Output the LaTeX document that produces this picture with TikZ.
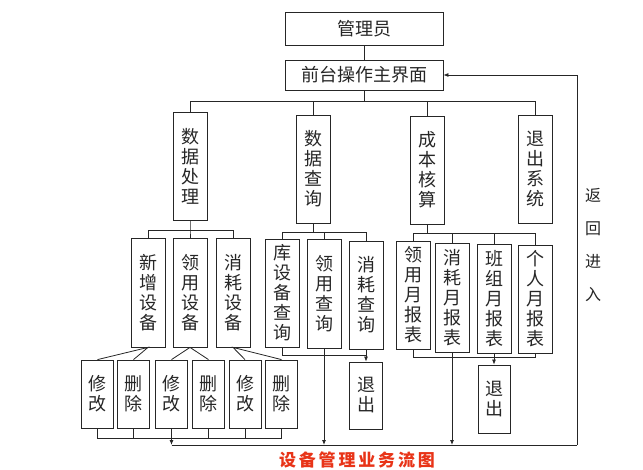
\documentclass[tikz,border=0pt]{standalone}
\usepackage{fontspec}
\newfontfamily\cjk{Noto Sans CJK SC}
\usepackage{tikz}
\usetikzlibrary{arrows.meta, positioning, calc}
\definecolor{titlered}{RGB}{232,52,24}

\begin{document}
\begin{tikzpicture}[x=1pt, y=-1pt, font=\cjk\fontsize{18}{20}\selectfont,
    line width=0.8pt, color=black!85,
    box/.style={draw, inner sep=0pt, align=center, minimum width=34pt, minimum height=108pt},
    leaf/.style={box, minimum width=32pt, minimum height=68pt},
    arr/.style={-{Latex[length=5pt, width=4pt]}}]
    \useasboundingbox (0,0) rectangle (643,470);

    \node[box, minimum width=158pt, minimum height=33pt] (admin) at (364,28.5) {管理员};
    \node[box, minimum width=158pt, minimum height=30pt] (mainui) at (364,75) {前台操作主界面};

    \node[box] (proc) at (190,166) {数\\据\\处\\理};
    \node[box] (query) at (313,169) {数\\据\\查\\询};
    \node[box] (cost) at (427,170) {成\\本\\核\\算};
    \node[box] (quit) at (535,169) {退\\出\\系\\统};

    \node[box, minimum height=109pt] (add) at (148,292.5) {新\\增\\设\\备};
    \node[box, minimum height=109pt] (use) at (190,292.5) {领\\用\\设\\备};
    \node[box, minimum height=109pt] (cons) at (233,292.5) {消\\耗\\设\\备};
    \node[box, minimum height=108pt] (qstock) at (282,293) {库\\设\\备\\查\\询};
    \node[box, minimum height=109pt] (quse) at (324,293.5) {领\\用\\查\\询};
    \node[box, minimum height=108pt] (qcons) at (366,295) {消\\耗\\查\\询};
    \node[box, minimum height=108pt] (ruse) at (413,295) {领\\用\\月\\报\\表};
    \node[box, minimum height=109pt] (rcons) at (452,297.5) {消\\耗\\月\\报\\表};
    \node[box, minimum height=109pt] (rteam) at (494,298.5) {班\\组\\月\\报\\表};
    \node[box, minimum height=108pt] (rself) at (535,299) {个\\人\\月\\报\\表};

    \node[leaf] (edit1) at (97.5,394) {修\\改};
    \node[leaf] (del1) at (133.5,394) {删\\除};
    \node[leaf] (edit2) at (171.5,394) {修\\改};
    \node[leaf] (del2) at (208.5,394) {删\\除};
    \node[leaf] (edit3) at (245,394) {修\\改};
    \node[leaf] (del3) at (281.5,394) {删\\除};
    \node[leaf, minimum width=33pt, minimum height=67pt] (exitA) at (366,395.5) {退\\出};
    \node[leaf, minimum height=68pt] (exitB) at (494,399) {退\\出};

    \node[align=center, font=\cjk\fontsize{16}{33}\selectfont] (back) at (593,245) {返\\回\\进\\入};
    \node[text=titlered, font=\cjk\bfseries\fontsize{17}{20}\selectfont] (title) at (357,460) {设\,备\,管\,理\,业\,务\,流\,图};

    \draw (admin) -- (mainui);
    \draw (mainui.south) -- ++(0,11) coordinate (bus1);
    \draw (proc.north) -- (proc.north |- bus1) -- (quit.north |- bus1) -- (quit.north);
    \draw (query.north) -- (query.north |- bus1);
    \draw (cost.north) -- (cost.north |- bus1);

    \draw (proc.south) -- ++(0,10) coordinate (bus2) -- (use.north);
    \draw (add.north) -- (add.north |- bus2) -- (cons.north |- bus2) -- (cons.north);
    \draw (query.south) -- ++(0,9) coordinate (bus3);
    \draw (qstock.north) -- (qstock.north |- bus3) -- (qcons.north |- bus3) -- (qcons.north);
    \draw (quse.north) -- (quse.north |- bus3);
    \draw (cost.south) -- ++(0,9) coordinate (bus4);
    \draw (ruse.north) -- (ruse.north |- bus4) -- (rself.north |- bus4) -- (rself.north);
    \draw (rcons.north) -- (rcons.north |- bus4);
    \draw (rteam.north) -- (rteam.north |- bus4);

    \foreach \p/\a/\b in {add/edit1/del1, use/edit2/del2, cons/edit3/del3}
        \draw (\a.north) -- (\p.south) -- (\b.north);

    \coordinate (bus5) at (0,438);
    \coordinate (ret) at (577,445);
    \draw (edit1.south) -- (edit1.south |- bus5) -- (del3.south |- bus5) -- (del3.south);
    \foreach \n in {del1, del2, edit3}
        \draw (\n.south) -- (\n.south |- bus5);
    \draw[arr] (edit2.south) -- (edit2.south |- ret);
    \draw (edit2.south |- ret) -- (ret);
    \draw[arr] (ret) |- (mainui.east);
    \draw[arr] (quse.south) -- (quse.south |- ret);
    \draw[arr] (rcons.south) -- (rcons.south |- ret);

    \coordinate (bus6) at (0,355);
    \draw (qstock.south) -- (qstock.south |- bus6) -- (qcons.south |- bus6);
    \draw[arr] (qcons.south) -- (exitA.north);
    \coordinate (bus7) at (0,357);
    \draw (ruse.south) -- (ruse.south |- bus7) -- (rself.south |- bus7) -- (rself.south);
    \draw[arr] (rteam.south) -- (exitB.north);
\end{tikzpicture}
\end{document}
